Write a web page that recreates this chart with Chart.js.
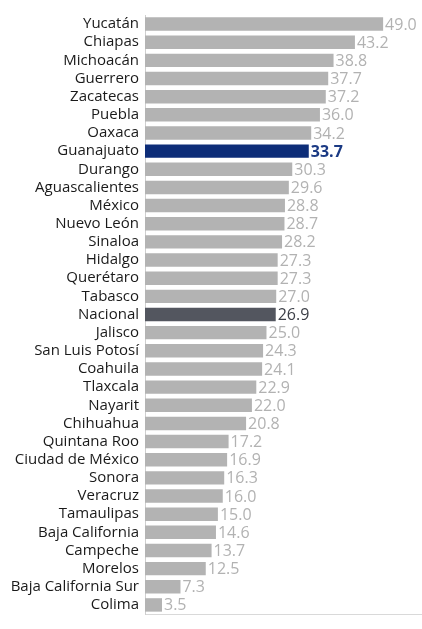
<!DOCTYPE html>
<html>
<head>
<meta charset="utf-8">
<script src="https://cdn.jsdelivr.net/npm/chart.js@4"></script>
<style>
    html, body { margin: 0; padding: 0; background: #fff; }
    #wrap { width: 422px; height: 629px; position: relative; }
</style>
</head>
<body>
<div id="wrap"><canvas id="chart"></canvas></div>
<script>
// Data
const estados = [
    'Yucatán', 'Chiapas', 'Michoacán', 'Guerrero', 'Zacatecas', 'Puebla', 'Oaxaca',
    'Guanajuato', 'Durango', 'Aguascalientes', 'México', 'Nuevo León', 'Sinaloa',
    'Hidalgo', 'Querétaro', 'Tabasco', 'Nacional', 'Jalisco', 'San Luis Potosí',
    'Coahuila', 'Tlaxcala', 'Nayarit', 'Chihuahua', 'Quintana Roo', 'Ciudad de México',
    'Sonora', 'Veracruz', 'Tamaulipas', 'Baja California', 'Campeche', 'Morelos',
    'Baja California Sur', 'Colima'
];
const valores = [
    49.0, 43.2, 38.8, 37.7, 37.2, 36.0, 34.2,
    33.7, 30.3, 29.6, 28.8, 28.7, 28.2,
    27.3, 27.3, 27.0, 26.9, 25.0, 24.3,
    24.1, 22.9, 22.0, 20.8, 17.2, 16.9,
    16.3, 16.0, 15.0, 14.6, 13.7, 12.5,
    7.3, 3.5
];
const destacado = 'Guanajuato';
const nacional = 'Nacional';

const barColors = estados.map(e => e === destacado ? '#0d2d78' : (e === nacional ? '#53565f' : '#b3b3b3'));

// draws the value at the end of each bar
const valueLabels = {
    id: 'valueLabels',
    afterDatasetsDraw(chart) {
        const ctx = chart.ctx;
        const meta = chart.getDatasetMeta(0);
        ctx.save();
        ctx.textBaseline = 'middle';
        ctx.textAlign = 'left';
        meta.data.forEach((bar, i) => {
            const name = estados[i];
            if (name === destacado) {
                ctx.fillStyle = '#1b3a84';
                ctx.font = 'bold 16px "Open Sans"';
            } else if (name === nacional) {
                ctx.fillStyle = '#3c3f47';
                ctx.font = '16px "Open Sans"';
            } else {
                ctx.fillStyle = '#b2b2b2';
                ctx.font = '16px "Open Sans"';
            }
            ctx.fillText(valores[i].toFixed(1), bar.x + 2, bar.y + 1);
        });
        ctx.restore();
    }
};

new Chart(document.getElementById('chart'), {
    type: 'bar',
    data: {
        labels: estados,
        datasets: [{
            data: valores,
            backgroundColor: barColors,
            barPercentage: 0.74,
            categoryPercentage: 1
        }]
    },
    options: {
        indexAxis: 'y',
        responsive: true,
        maintainAspectRatio: false,
        animation: false,
        layout: { padding: { top: 7, right: 0, bottom: 0, left: 0 } },
        plugins: {
            legend: { display: false },
            tooltip: { enabled: false }
        },
        scales: {
            x: {
                min: 0,
                max: 57,
                grid: { display: false, drawTicks: false },
                ticks: { display: false },
                border: { display: true, color: '#d9d9d9' },
                afterFit: (scale) => { scale.height = 1; }
            },
            y: {
                grid: { display: false, drawTicks: false },
                border: { display: true, color: '#cfcfcf' },
                ticks: {
                    color: '#1a1a1a',
                    padding: 6,
                    autoSkip: false,
                    font: { family: 'Open Sans', size: 15 }
                },
                afterFit: (scale) => { scale.width = 145; }
            }
        }
    },
    plugins: [valueLabels]
});
</script>
</body>
</html>
